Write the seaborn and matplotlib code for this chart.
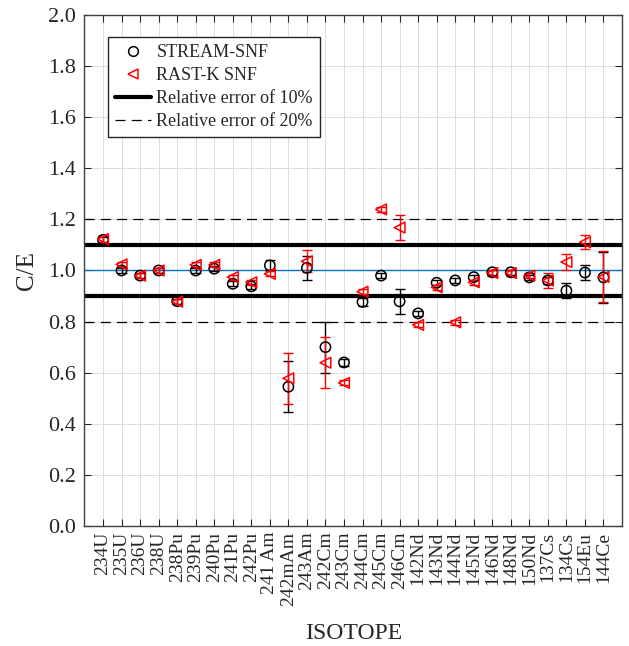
import numpy as np
import pandas as pd
import matplotlib
matplotlib.use("Agg")
import matplotlib.pyplot as plt
from matplotlib.lines import Line2D
import seaborn as sns

isotopes = ["234U", "235U", "236U", "238U", "238Pu", "239Pu", "240Pu", "241Pu", "242Pu",
            "241 Am", "242mAm", "243Am", "242Cm", "243Cm", "244Cm", "245Cm", "246Cm",
            "142Nd", "143Nd", "144Nd", "145Nd", "146Nd", "148Nd", "150Nd",
            "137Cs", "134Cs", "154Eu", "144Ce"]

stream_ce = [1.12, 1.00, 0.98, 1.00, 0.88, 1.00, 1.007, 0.948, 0.938,
             1.02, 0.545, 1.01, 0.70, 0.64, 0.877, 0.98, 0.879,
             0.832, 0.952, 0.961, 0.974, 0.993, 0.993, 0.973,
             0.961, 0.921, 0.992, 0.973]
stream_err = [0.01, 0.01, 0.01, 0.01, 0.01, 0.01, 0.01, 0.01, 0.01,
              0.02, 0.10, 0.047, 0.10, 0.015, 0.015, 0.01, 0.05,
              0.01, 0.01, 0.01, 0.01, 0.01, 0.01, 0.01,
              0.012, 0.03, 0.029, 0.10]

rast_ce = [1.123, 1.024, 0.98, 1.00, 0.878, 1.022, 1.022, 0.974, 0.954,
           0.987, 0.578, 1.036, 0.639, 0.56, 0.917, 1.239, 1.168,
           0.787, 0.934, 0.797, 0.954, 0.99, 0.99, 0.98,
           0.961, 1.033, 1.111, 0.975]
rast_err = [0.01, 0.01, 0.01, 0.01, 0.01, 0.01, 0.01, 0.01, 0.01,
            0.01, 0.10, 0.043, 0.10, 0.01, 0.01, 0.01, 0.05,
            0.01, 0.01, 0.01, 0.01, 0.01, 0.01, 0.01,
            0.029, 0.03, 0.028, 0.10]

yticks = [0.0, 0.2, 0.4, 0.6, 0.8, 1.0, 1.2, 1.4, 1.6, 1.8, 2.0]

sns.set_style("ticks")
plt.rcParams["font.family"] = ["Liberation Serif", "DejaVu Serif"]
plt.rcParams["mathtext.fontset"] = "stix"

pos = np.arange(1, len(isotopes) + 1)
df = pd.DataFrame({"pos": pos, "isotope": isotopes,
                   "stream": stream_ce, "stream_err": stream_err,
                   "rast": rast_ce, "rast_err": rast_err})

fig = plt.figure(figsize=(6.29, 6.46), dpi=100)
ax = fig.add_axes([0.1343, 0.1858, 0.8546, 0.7910])

# reference lines
ax.axhline(1.0, color="#0072BD", lw=1.0, zorder=2)
for v in (1.1, 0.9):
    ax.axhline(v, color="black", lw=3.0, zorder=2)
for v in (1.2, 0.8):
    ax.axhline(v, color="black", lw=0.9, ls=(0, (8, 5)), zorder=2)

# error bars
ax.errorbar(df["pos"], df["stream"], yerr=df["stream_err"], fmt="none",
            ecolor="black", elinewidth=1.0, capsize=3.5, capthick=1.0, zorder=3)
ax.errorbar(df["pos"], df["rast"], yerr=df["rast_err"], fmt="none",
            ecolor="red", elinewidth=1.0, capsize=3.5, capthick=1.0, zorder=4)

sns.scatterplot(data=df, x="pos", y="stream", marker="o", s=55,
                facecolors="none", edgecolor="black", linewidth=1.1, ax=ax, zorder=5)
sns.scatterplot(data=df, x="pos", y="rast", marker="<", s=60,
                facecolors="none", edgecolor="red", linewidth=1.1, ax=ax, zorder=6)

ax.set_xlim(0, len(isotopes) + 1)
ax.set_ylim(0, 2.0)
ax.set_xticks(pos)
ax.set_xticklabels(isotopes, rotation=90, fontsize=14)
ax.set_yticks(yticks)
ax.set_yticklabels([f"{v:.1f}" for v in yticks], fontsize=16)
ax.grid(True, color="#dcdcdc", lw=0.7, zorder=0)
ax.set_axisbelow(True)
ax.tick_params(axis="both", direction="in", top=True, right=True, length=5,
               width=0.8, color="#262626")
ax.tick_params(axis="x", pad=4)
ax.tick_params(axis="y", pad=6)
for s in ax.spines.values():
    s.set_color("#404040")
    s.set_linewidth(1.0)

ax.set_xlabel("ISOTOPE", fontsize=17)
ax.set_ylabel("C/E", fontsize=18)
ax.xaxis.set_label_coords(0.5, -0.19)
ax.yaxis.set_label_coords(-0.087, 0.5)

handles = [
    Line2D([], [], ls="none", marker="o", mfc="none", mec="black", ms=7, mew=1.1),
    Line2D([], [], ls="none", marker="<", mfc="none", mec="red", ms=7, mew=1.1),
    Line2D([], [], color="black", lw=3.0),
    Line2D([], [], color="black", lw=0.9, ls=(0, (8, 5))),
]
labels = ["STREAM-SNF", "RAST-K SNF", "Relative error of 10%", "Relative error of 20%"]
leg = ax.legend(handles, labels, loc="upper left", bbox_to_anchor=(0.043, 0.957),
                fontsize=13, frameon=True, fancybox=False, framealpha=1,
                edgecolor="#262626", handlelength=2.0, handletextpad=0.3,
                borderpad=0.4, labelspacing=0.33, borderaxespad=0)
leg.get_frame().set_linewidth(1.0)

fig.savefig("out.png", dpi=100)
